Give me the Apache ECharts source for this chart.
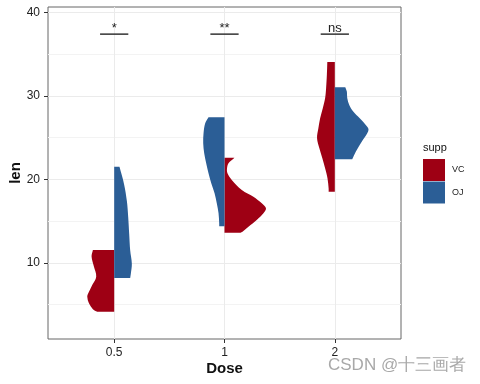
<!DOCTYPE html>
<html>
<head>
<meta charset="utf-8">
<script src="https://cdn.jsdelivr.net/npm/echarts@6/dist/echarts.min.js"></script>
<style>
html,body{margin:0;padding:0;background:#fff;}
#chart{width:480px;height:384px;}
</style>
</head>
<body>
<div id="chart"></div>
<script>
// Categories and tick labels
const doses = ['0.5', '1', '2'];
const supps = ['VC', 'OJ'];
const yTicks = [10, 20, 30, 40];
const yMinor = [5, 15, 25, 35];
const xTicks = [0, 1, 2];

// Violin outlines: [len, half-width in category units], top to bottom
const vc05 = [[11.55,0.193],[10.75,0.205],[9.55,0.184],[8.35,0.163],[7.35,0.199],[6.35,0.235],[5.95,0.244],[5.15,0.229],[4.45,0.193],[4.15,0.154]];
const vc1  = [[22.6,0.090],[21.93,0.036],[21.33,0.023],[20.73,0.027],[19.93,0.066],[18.73,0.157],[17.93,0.262],[17.13,0.338],[16.53,0.376],[15.93,0.353],[15.13,0.292],[14.33,0.217],[13.73,0.163],[13.6,0.145]];
const vc2  = [[34.05,0.068],[32.52,0.072],[30.92,0.079],[29.72,0.088],[28.52,0.109],[27.32,0.133],[26.12,0.149],[24.92,0.161],[23.72,0.140],[22.52,0.113],[21.32,0.088],[20.12,0.066],[18.92,0.056],[18.52,0.056]];
const oj05 = [[21.5,0.048],[19.4,0.090],[17.4,0.115],[15.5,0.127],[13.5,0.136],[11.5,0.145],[9.9,0.160],[8.7,0.151],[8.2,0.145]];
const oj1  = [[27.45,0.145],[26.73,0.175],[25.53,0.190],[24.33,0.193],[23.13,0.184],[21.93,0.166],[20.73,0.145],[19.53,0.120],[18.33,0.090],[17.13,0.070],[15.93,0.054],[14.73,0.048],[14.4,0.048]];
const oj2  = [[31.05,0.095],[30.52,0.109],[29.72,0.113],[28.92,0.131],[28.12,0.167],[27.32,0.226],[26.52,0.281],[26.04,0.305],[25.52,0.294],[24.52,0.244],[23.32,0.190],[22.4,0.158]];
// Which side of the dose line each half sits on (-1 left, +1 right), as in the picture
const vcSide = [-1, 1, -1];
const ojSide = [1, -1, 1];

// Significance annotations
const sigLabels = ['*', '**', 'ns'];
const sigY = 37.4;
const sigHalf = 0.128;

const vcProfiles = [vc05, vc1, vc2];
const ojProfiles = [oj05, oj1, oj2];
const colors = { VC: '#9E0014', OJ: '#2B5E96' };

function violinRenderer(profiles, sides) {
  return function (params, api) {
    const i = api.value(0);
    const prof = profiles[i];
    const side = sides[i];
    const top = prof[0][0], bottom = prof[prof.length - 1][0];
    const pts = [];
    const ct = api.coord([i, top]);
    pts.push(ct, ct.slice());
    prof.forEach(function (p, k) {
      const c = api.coord([i + side * p[1], p[0]]);
      pts.push(c);
      if (k === 0 || k === prof.length - 1) pts.push(c.slice());
    });
    const cb = api.coord([i, bottom]);
    pts.push(cb, cb.slice());
    return {
      type: 'polygon',
      shape: { points: pts, smooth: 0.35 },
      style: { fill: api.visual('color'), stroke: null }
    };
  };
}

const chart = echarts.init(document.getElementById('chart'), null, { renderer: 'canvas' });
const fontFam = '"Liberation Sans", Arial, Helvetica, sans-serif';

chart.setOption({
  animation: false,
  backgroundColor: '#ffffff',
  textStyle: { fontFamily: fontFam },
  grid: {
    left: 48, right: 79, top: 7, bottom: 45,
    outerBoundsMode: 'none', containLabel: false,
    show: true, borderColor: '#666666', borderWidth: 1, backgroundColor: '#ffffff'
  },
  xAxis: {
    type: 'value', min: -0.6, max: 2.6,
    name: 'Dose', nameLocation: 'middle', nameGap: 22, nameMoveOverlap: false,
    nameTextStyle: { fontSize: 15, fontWeight: 'bold', color: '#111', fontFamily: fontFam },
    axisLine: { show: false, onZero: false },
    axisTick: { show: true, customValues: xTicks, length: 4, lineStyle: { color: '#333', width: 1 } },
    axisLabel: {
      customValues: xTicks, margin: 8, fontSize: 12, color: '#222', fontFamily: fontFam,
      formatter: function (v) { return doses[Math.round(v)]; }
    },
    splitLine: { show: true, lineStyle: { color: '#EBEBEB', width: 1 } }
  },
  yAxis: [{
    type: 'value', min: 0.88, max: 40.65,
    name: 'len', nameLocation: 'middle', nameGap: 25, nameRotate: 90, nameMoveOverlap: false,
    nameTextStyle: { fontSize: 15, fontWeight: 'bold', color: '#111', fontFamily: fontFam },
    axisLine: { show: false, onZero: false },
    axisTick: { show: true, customValues: yTicks, length: 4, lineStyle: { color: '#333', width: 1 } },
    axisLabel: { customValues: yTicks, margin: 8, fontSize: 12, color: '#222', fontFamily: fontFam },
    splitLine: { show: true, lineStyle: { color: '#EBEBEB', width: 1 } }
  }, {
    type: 'value', min: 0.88, max: 40.65, position: 'left',
    axisLine: { show: false, onZero: false },
    axisTick: { show: false, customValues: yMinor },
    axisLabel: { show: false, customValues: yMinor },
    splitLine: { show: true, lineStyle: { color: '#F3F3F3', width: 1 } }
  }],
  legend: {
    data: supps, orient: 'vertical', left: 423, top: 159, padding: 0,
    itemWidth: 22, itemHeight: 22, itemGap: 0.5, icon: 'rect',
    textStyle: { fontSize: 9, color: '#222', fontFamily: fontFam, padding: [0, 0, 0, 2] },
    selectedMode: false
  },
  graphic: [
    { type: 'text', left: 423, top: 142, style: { text: 'supp', fontSize: 11, fill: '#111', fontFamily: fontFam } },
    { type: 'text', left: 328, top: 357, style: { text: 'CSDN @十三画者', fontSize: 17, fill: '#a8a8a8', fontFamily: fontFam } }
  ],
  series: [
    {
      name: 'VC', type: 'custom', itemStyle: { color: colors.VC },
      data: [[0], [1], [2]], renderItem: violinRenderer(vcProfiles, vcSide), z: 3
    },
    {
      name: 'OJ', type: 'custom', itemStyle: { color: colors.OJ },
      data: [[0], [1], [2]], renderItem: violinRenderer(ojProfiles, ojSide), z: 3
    },
    {
      name: 'sig', type: 'custom', data: [[0], [1], [2]], z: 4,
      renderItem: function (params, api) {
        const i = api.value(0);
        const a = api.coord([i - sigHalf, sigY]);
        const b = api.coord([i + sigHalf, sigY]);
        const c = api.coord([i, sigY]);
        return {
          type: 'group',
          children: [
            { type: 'line', shape: { x1: a[0], y1: a[1], x2: b[0], y2: b[1] }, style: { stroke: '#333', lineWidth: 1.5 } },
            { type: 'text', x: c[0], y: c[1] + 1, style: { text: sigLabels[i], fontSize: 13, fill: '#222', align: 'center', verticalAlign: 'bottom', fontFamily: fontFam } }
          ]
        };
      }
    }
  ]
});
</script>
</body>
</html>
